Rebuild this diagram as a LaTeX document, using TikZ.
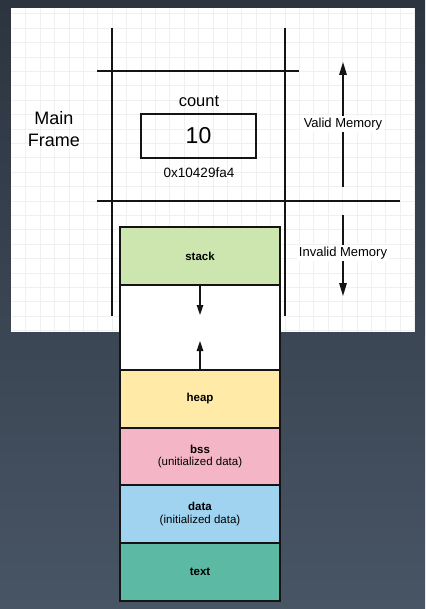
\documentclass[tikz,border=0pt]{standalone}
\usepackage{fontspec}
\setmainfont{Liberation Sans}
\usetikzlibrary{arrows.meta}
\definecolor{bgtop}{RGB}{44,52,63}
\definecolor{bgbot}{RGB}{72,85,101}
\definecolor{stackc}{RGB}{205,230,176}
\definecolor{heapc}{RGB}{255,234,168}
\definecolor{bssc}{RGB}{244,182,198}
\definecolor{datac}{RGB}{159,211,240}
\definecolor{textc}{RGB}{92,186,164}
\definecolor{ink}{RGB}{20,20,20}
\begin{document}
\begin{tikzpicture}[x=1pt, y=-1pt,
          frame line/.style={ink, line width=1.5pt},
          segment/.style={draw=ink, line width=1.6pt, anchor=north west, minimum width=160pt,
                          inner sep=0pt, outer sep=0pt, align=center, font=\fontsize{11.5}{13.5}\selectfont},
          mem arrow/.style={ink, line width=1.5pt, -{Triangle[length=13pt, width=7.5pt]}},
          grow arrow/.style={ink, line width=1.3pt, -{Triangle[length=10pt, width=6.5pt]}},
          small label/.style={font=\fontsize{13}{15}\selectfont, fill=white, inner sep=1.5pt}]
          \useasboundingbox (0,0) rectangle (425,609);
          \shade[top color=bgtop, bottom color=bgbot] (0,0) rectangle (425,609);
          % frame area with faint grid
          \fill[white] (11,8) rectangle (415,332);
          \foreach \x in {0,...,27}{
              \draw[black!6, line width=0.7pt] (25.7+\x*14.4,8) -- (25.7+\x*14.4,332);
          }
          \foreach \y in {0,...,22}{
              \draw[black!6, line width=0.7pt] (11,13.7+\y*14.4) -- (415,13.7+\y*14.4);
          }
          \draw[frame line] (112,28) -- (112,316);
          \draw[frame line] (285,28) -- (285,316);
          \draw[frame line] (97,71) -- (299,71);
          \draw[frame line] (97,201) -- (400,201);
          \node[align=center, font=\fontsize{18}{22}\selectfont] (mainframe) at (54,129) {Main\\Frame};
          \node[font=\fontsize{16.5}{19}\selectfont] (countlbl) at (199,101) {count};
          \node[draw=ink, line width=1.5pt, minimum width=115pt, minimum height=44pt,
                font=\fontsize{23}{26}\selectfont] (count) at (198.5,136) {10};
          \node[font=\fontsize{13.5}{16}\selectfont] (addr) at (199,173) {0x10429fa4};
          % valid / invalid memory
          \coordinate (validlo) at (343,187);
          \coordinate (validhi) at (343,62);
          \draw[mem arrow] (validlo) -- (validhi);
          \node[small label] (valid) at (343,124) {Valid Memory};
          \coordinate (invalidhi) at (343,215);
          \coordinate (invalidlo) at (343,296);
          \draw[mem arrow] (invalidhi) -- (invalidlo);
          \node[small label] (invalid) at (343,253) {Invalid Memory};
          % memory layout
          \node[segment, fill=stackc, minimum height=58pt] (stack) at (120,227) {\textbf{stack}};
          \node[segment, fill=white, minimum height=85pt] (free) at (120,285) {};
          \node[segment, fill=heapc, minimum height=58pt] (heap) at (120,370) {\textbf{heap}};
          \node[segment, fill=bssc, minimum height=57pt] (bss) at (120,428)
               {\textbf{bss}\\[-1pt](unitialized data)};
          \node[segment, fill=datac, minimum height=58pt] (data) at (120,485)
               {\textbf{data}\\[-1pt](initialized data)};
          \node[segment, fill=textc, minimum height=58pt] (text) at (120,543) {\textbf{text}};
          \coordinate (stackgrow) at ([yshift=-30pt]stack.south);
          \coordinate (heapgrow) at ([yshift=29pt]heap.north);
          \draw[grow arrow] (stack.south) -- (stackgrow);
          \draw[grow arrow] (heap.north) -- (heapgrow);
      \end{tikzpicture}
\end{document}
